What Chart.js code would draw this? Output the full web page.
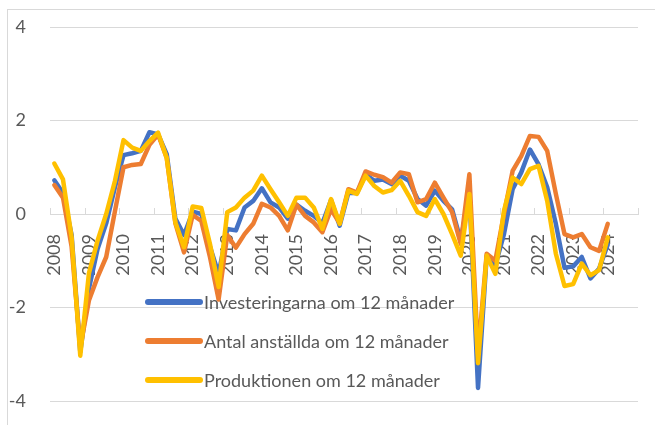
<!DOCTYPE html>
<html>
<head>
<meta charset="utf-8">
<script src="https://cdn.jsdelivr.net/npm/chart.js@4.4.1/dist/chart.umd.min.js"></script>
<style>
  html, body { margin: 0; padding: 0; background: #fff; }
  #wrap { position: relative; width: 655px; height: 425px; overflow: hidden; }
  #frame { position: absolute; left: 7px; top: 9px; width: 700px; height: 500px; border: 1px solid #d9d9d9; }
  canvas { position: absolute; left: 0; top: 0; }
</style>
</head>
<body>
<div id="wrap">
  <div id="frame"></div>
  <canvas id="myChart" width="655" height="425"></canvas>
</div>
<script>
// years on the axis, one label per year (quarterly data)
const years = ["2008", "2009", "2010", "2011", "2012", "2013", "2014", "2015", "2016",
  "2017", "2018", "2019", "2020", "2021", "2022", "2023", "2024"];
const yTicks = [-4, -2, 0, 2, 4];

// 2008 Q1 .. 2024 Q1
const investeringar = [
  0.72, 0.45, -0.45, -2.95,
  -1.6, -0.75, -0.2, 0.57,
  1.26, 1.3, 1.35, 1.75,
  1.7, 1.28, -0.1, -0.45,
  0.05, 0.0, -0.7, -1.28,
  -0.32, -0.35, 0.14, 0.28,
  0.55, 0.25, 0.14, -0.1,
  0.2, 0.07, -0.04, -0.2,
  0.3, -0.25, 0.45, 0.45,
  0.85, 0.71, 0.74, 0.64,
  0.82, 0.71, 0.32, 0.18,
  0.5, 0.28, 0.1, -0.57,
  0.45, -3.72, -0.9, -1.1,
  -0.43, 0.53, 0.89, 1.38,
  1.06, 0.57, -0.21, -1.15,
  -1.12, -0.92, -1.38, -1.17,
  -0.65
];
const anstallda = [
  0.62, 0.35, -0.7, -2.85,
  -1.85, -1.35, -0.92, 0.05,
  1.0, 1.05, 1.07, 1.48,
  1.7, 1.2, -0.2, -0.82,
  -0.02, -0.15, -0.92, -1.83,
  -0.45, -0.72, -0.43, -0.21,
  0.22, 0.14, -0.04, -0.35,
  0.2, -0.04, -0.18, -0.39,
  0.1, -0.2, 0.53, 0.46,
  0.91, 0.84, 0.79, 0.67,
  0.89, 0.85, 0.25, 0.32,
  0.67, 0.35, 0.04, -0.64,
  0.85, -3.0, -0.85, -1.0,
  0.0, 0.92, 1.24, 1.67,
  1.65, 1.35, 0.43, -0.43,
  -0.5, -0.43, -0.71, -0.79,
  -0.21
];
const produktion = [
  1.08, 0.74, -0.5, -3.03,
  -1.27, -0.57, 0.0, 0.7,
  1.58, 1.42, 1.35, 1.56,
  1.74, 1.2, -0.18, -0.71,
  0.16, 0.13, -0.64, -1.56,
  0.04, 0.14, 0.35, 0.5,
  0.82, 0.53, 0.25, -0.04,
  0.35, 0.35, 0.14, -0.32,
  0.32, -0.21, 0.5, 0.43,
  0.82, 0.6, 0.46, 0.51,
  0.71, 0.39, 0.04, -0.04,
  0.32, 0.0, -0.43, -0.89,
  0.43, -3.19, -0.89, -1.28,
  0.07, 0.78, 0.64, 0.96,
  1.03, 0.28, -0.85, -1.54,
  -1.5, -1.06, -1.31, -1.2,
  -0.5
];

const seriesNames = ["Investeringarna om 12 månader", "Antal anställda om 12 månader", "Produktionen om 12 månader"];
const seriesColors = ["#4472C4", "#ED7D31", "#FFC000"];

// one category per quarter, year shown on first quarter
let labels = [];
years.forEach(function (y) {
  for (let q = 1; q <= 4; q++) labels.push(y + " Q" + q);
});

const FONT = "Lato";
const GRAY = "#595959";

// small year tick marks sitting on top of the zero axis
const axisTicks = {
  id: "axisTicks",
  beforeDatasetsDraw(chart) {
    const xs = chart.scales.x;
    const y0 = chart.scales.y.getPixelForValue(0);
    const half = (xs.getPixelForValue(1) - xs.getPixelForValue(0)) / 2;
    const ctx = chart.ctx;
    ctx.save();
    ctx.strokeStyle = "#d9d9d9";
    ctx.lineWidth = 1;
    for (let i = 0; i <= labels.length; i += 4) {
      const x = Math.round(xs.getPixelForValue(i) - half) + 0.5;
      ctx.beginPath();
      ctx.moveTo(x, y0 - 6);
      ctx.lineTo(x, y0);
      ctx.stroke();
    }
    ctx.restore();
  }
};

// legend drawn inside the plot, like the original
const innerLegend = {
  id: "innerLegend",
  beforeDatasetsDraw(chart) {
    const ctx = chart.ctx;
    ctx.save();
    ctx.font = "18px " + FONT;
    ctx.textBaseline = "middle";
    ctx.lineCap = "round";
    seriesNames.forEach(function (name, i) {
      const y = 302 + i * 39;
      ctx.strokeStyle = seriesColors[i];
      ctx.lineWidth = 6;
      ctx.beginPath();
      ctx.moveTo(148, y);
      ctx.lineTo(200, y);
      ctx.stroke();
      ctx.fillStyle = GRAY;
      ctx.fillText(name, 204, y + 1);
    });
    ctx.restore();
  }
};

const dataSets = [investeringar, anstallda, produktion].map(function (d, i) {
  return {
    label: seriesNames[i],
    data: d,
    borderColor: seriesColors[i],
    backgroundColor: seriesColors[i],
    borderWidth: 4.5,
    borderCapStyle: "round",
    borderJoinStyle: "round",
    pointRadius: 0,
    tension: 0,
    fill: false,
    order: 3 - i,
  };
});

let ctx = document.getElementById("myChart").getContext("2d");
let chart = new Chart(ctx, {
  type: "line",
  data: { labels: labels, datasets: dataSets },
  plugins: [axisTicks, innerLegend],
  options: {
    responsive: false,
    animation: false,
    layout: { padding: { left: 0, right: 17, top: 27, bottom: 24 } },
    plugins: { legend: { display: false }, tooltip: { enabled: false } },
    scales: {
      x: {
        type: "category",
        offset: true,
        position: { y: 0 },
        afterFit: function (scale) {
          scale.paddingLeft = 0;
          scale.paddingRight = 0;
        },
        grid: { display: false },
        border: { display: true, color: "#d9d9d9", width: 1 },
        ticks: {
          autoSkip: false,
          minRotation: 90,
          maxRotation: 90,
          padding: 12,
          color: GRAY,
          font: { family: FONT, size: 18 },
          callback: function (v, i) {
            return i % 4 === 0 ? years[i / 4] : "";
          },
        },
      },
      y: {
        min: -4,
        max: 4,
        afterFit: function (scale) {
          scale.width = 50;
          scale.paddingTop = 0;
          scale.paddingBottom = 0;
        },
        afterBuildTicks: function (scale) {
          scale.ticks = yTicks.map(function (v) { return { value: v }; });
        },
        grid: { color: "#d9d9d9", lineWidth: 1, drawTicks: false },
        border: { display: false },
        ticks: {
          padding: 24,
          color: GRAY,
          font: { family: FONT, size: 18 },
        },
      },
    },
  },
});
</script>
</body>
</html>
